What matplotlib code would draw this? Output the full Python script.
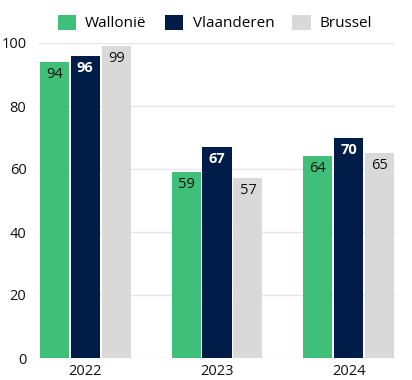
import matplotlib.pyplot as plt
import numpy as np
from matplotlib.patches import Patch

years = ["2022", "2023", "2024"]
regions = ["Wallonië", "Vlaanderen", "Brussel"]
wallonie = [94, 59, 64]
vlaanderen = [96, 67, 70]
brussel = [99, 57, 65]

colors = ["#40BF78", "#001C48", "#D9D9D9"]
text_colors = ["#111111", "white", "#111111"]

plt.rcParams['font.family'] = ['Open Sans', 'DejaVu Sans']

fig = plt.figure(figsize=(4.12, 3.8), dpi=100)
ax = fig.add_axes([39 / 412, 22 / 380, 356 / 412, 315 / 380])

x = np.arange(len(years))
width = 0.22
step = 0.235
series = [wallonie, vlaanderen, brussel]

for i, (vals, col, tcol) in enumerate(zip(series, colors, text_colors)):
    pos = x + (i - 1) * step
    ax.bar(pos, vals, width=width, color=col, zorder=3)
    for p, v in zip(pos, vals):
        ax.text(p, v - 1.6, str(v), ha='center', va='top', color=tcol,
                fontsize=10.5, fontweight='bold' if i == 1 else 'normal', zorder=4)

ax.set_xlim(-0.35, 2.35)
ax.set_ylim(0, 100)
ax.set_yticks(range(0, 101, 20))
ax.set_xticks(x)
ax.set_xticklabels(years)
ax.tick_params(axis='both', length=0, labelsize=10.5, colors='#111111')
ax.tick_params(axis='y', pad=9)
ax.tick_params(axis='x', pad=4)
ax.grid(axis='y', color='#E6E6E6', linewidth=1, zorder=0)
for s in ax.spines.values():
    s.set_visible(False)

handles = [Patch(facecolor=c, label=r) for c, r in zip(colors, regions)]
fig.legend(handles=handles, loc='center', bbox_to_anchor=(0.522, 1 - 23 / 380),
           ncol=3, frameon=False, fontsize=11, handlelength=1.2, handleheight=1.2,
           columnspacing=1.2, handletextpad=0.6)

fig.savefig("out.png", dpi=100)
